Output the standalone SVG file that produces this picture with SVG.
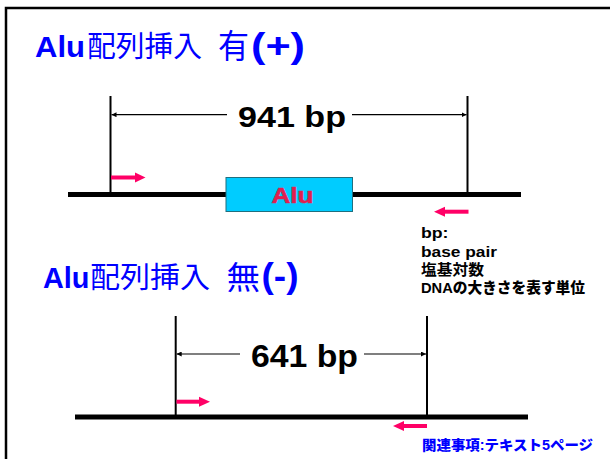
<svg xmlns="http://www.w3.org/2000/svg" width="610" height="459" viewBox="0 0 610 459">
<defs>
<marker id="dimHead" viewBox="0 0 10 10" refX="10" refY="5" markerWidth="5" markerHeight="5" orient="auto-start-reverse" markerUnits="userSpaceOnUse">
<path d="M0,0 L10,5 L0,10 z" fill="#000"/>
</marker>
</defs>
<style>
.frame{fill:none;stroke:#000;stroke-width:2.5}
.dna{stroke:#000;stroke-width:5}
.tick{stroke:#000;stroke-width:2}
.dim{stroke:#000;stroke-width:1.2}
.primer{stroke:#FF0066;stroke-width:4}
.primerHead{fill:#FF0066}
.lat{font-family:"Liberation Sans",Arial,"Noto Sans CJK JP",sans-serif;font-weight:bold}
.jp{font-family:"Noto Sans CJK JP","Noto Sans CJK SC",sans-serif}
.jpb{font-family:"Noto Sans CJK JP","Noto Sans CJK SC",sans-serif;font-weight:900}
.blue{fill:#0000FF}
.note{font-family:"Liberation Sans",Arial,"Noto Sans CJK JP",sans-serif;font-weight:bold;font-size:15px;fill:#000}
</style>
<rect width="610" height="459" fill="#fff"/>
<rect class="frame" x="6" y="8" width="630" height="480"/>

<g id="title-plus">
<text class="lat blue" x="35" y="57.3" font-size="30" textLength="50" lengthAdjust="spacingAndGlyphs">Alu</text>
<text class="jp blue" x="87" y="57.3" font-size="29" textLength="115" lengthAdjust="spacingAndGlyphs">配列挿入</text>
<text class="jp blue" x="218" y="58" font-size="33" textLength="31" lengthAdjust="spacingAndGlyphs">有</text>
<text class="lat blue" x="251" y="57.5" font-size="35" textLength="54" lengthAdjust="spacingAndGlyphs">(+)</text>
</g>

<g id="dna-plus">
<line class="dna" x1="68" y1="194.5" x2="521" y2="194.5"/>
<line class="tick" x1="110.5" y1="96" x2="110.5" y2="194"/>
<line class="tick" x1="467.5" y1="96" x2="467.5" y2="194"/>
</g>

<g id="alu-box">
<rect x="226" y="177.5" width="126.5" height="34" fill="#00CCFF" stroke="#1F6F7F" stroke-width="1"/>
<text class="lat" x="271.5" y="202.7" font-size="21.5" fill="#E01E50" stroke="#E01E50" stroke-width="0.6" textLength="42" lengthAdjust="spacingAndGlyphs">Alu</text>
</g>

<g id="label-941">
<text class="lat" x="238" y="126.7" font-size="29" fill="#000" textLength="108" lengthAdjust="spacingAndGlyphs">941 bp</text>
</g>

<g id="primers-plus">
<line class="primer" x1="111" y1="177.5" x2="136" y2="177.5"/>
<polygon class="primerHead" points="135,172.5 145.5,177.5 135,182.5"/>
<line class="primer" x1="444" y1="211.7" x2="468.5" y2="211.7"/>
<polygon class="primerHead" points="445,206.7 434,211.7 445,216.7"/>
</g>

<g id="note">
<text class="note" x="421" y="238" textLength="27.5" lengthAdjust="spacingAndGlyphs">bp:</text>
<text class="note" x="421" y="256.7" textLength="76" lengthAdjust="spacingAndGlyphs">base pair</text>
<text class="note jpb" x="421" y="275" font-size="15.5" textLength="63" lengthAdjust="spacingAndGlyphs">塩基対数</text>
<text class="note" x="421" y="292.7" textLength="164" lengthAdjust="spacingAndGlyphs">DNA<tspan class="jpb">の大きさを表す単位</tspan></text>
</g>

<g id="title-minus">
<text class="lat blue" x="43" y="288.3" font-size="30" textLength="46.5" lengthAdjust="spacingAndGlyphs">Alu</text>
<text class="jp blue" x="90" y="288" font-size="29" textLength="120" lengthAdjust="spacingAndGlyphs">配列挿入</text>
<text class="jp blue" x="226.5" y="288.5" font-size="32" textLength="33.5" lengthAdjust="spacingAndGlyphs">無</text>
<text class="lat blue" x="261.5" y="288" font-size="35" textLength="37" lengthAdjust="spacingAndGlyphs">(-)</text>
</g>

<g id="dna-minus">
<line class="dna" x1="75" y1="417" x2="528" y2="417"/>
<line class="tick" x1="175.7" y1="316" x2="175.7" y2="417"/>
<line class="tick" x1="427" y1="316" x2="427" y2="417"/>
</g>

<g id="label-641">
<text class="lat" x="251" y="366.7" font-size="32" fill="#000" textLength="107" lengthAdjust="spacingAndGlyphs">641 bp</text>
</g>

<g id="primers-minus">
<line class="primer" x1="176.5" y1="401.7" x2="200" y2="401.7"/>
<polygon class="primerHead" points="199,396.7 210,401.7 199,406.7"/>
<line class="primer" x1="403" y1="426" x2="427" y2="426"/>
<polygon class="primerHead" points="404,421 393,426 404,431"/>
</g>

<g id="footer">
<text class="lat blue" x="422" y="450" font-size="14" textLength="171" lengthAdjust="spacingAndGlyphs"><tspan class="jpb">関連事項</tspan>:<tspan class="jpb">テキスト</tspan>5<tspan class="jpb">ページ</tspan></text>
</g>

<g id="connectors">
<line class="dim" x1="111.5" y1="114.7" x2="227" y2="114.7" marker-start="url(#dimHead)"/>
<line class="dim" x1="352" y1="114.7" x2="466.5" y2="114.7" marker-end="url(#dimHead)"/>
<line class="dim" x1="176.7" y1="354" x2="240" y2="354" marker-start="url(#dimHead)"/>
<line class="dim" x1="364" y1="354" x2="426" y2="354" marker-end="url(#dimHead)"/>
</g>
</svg>
